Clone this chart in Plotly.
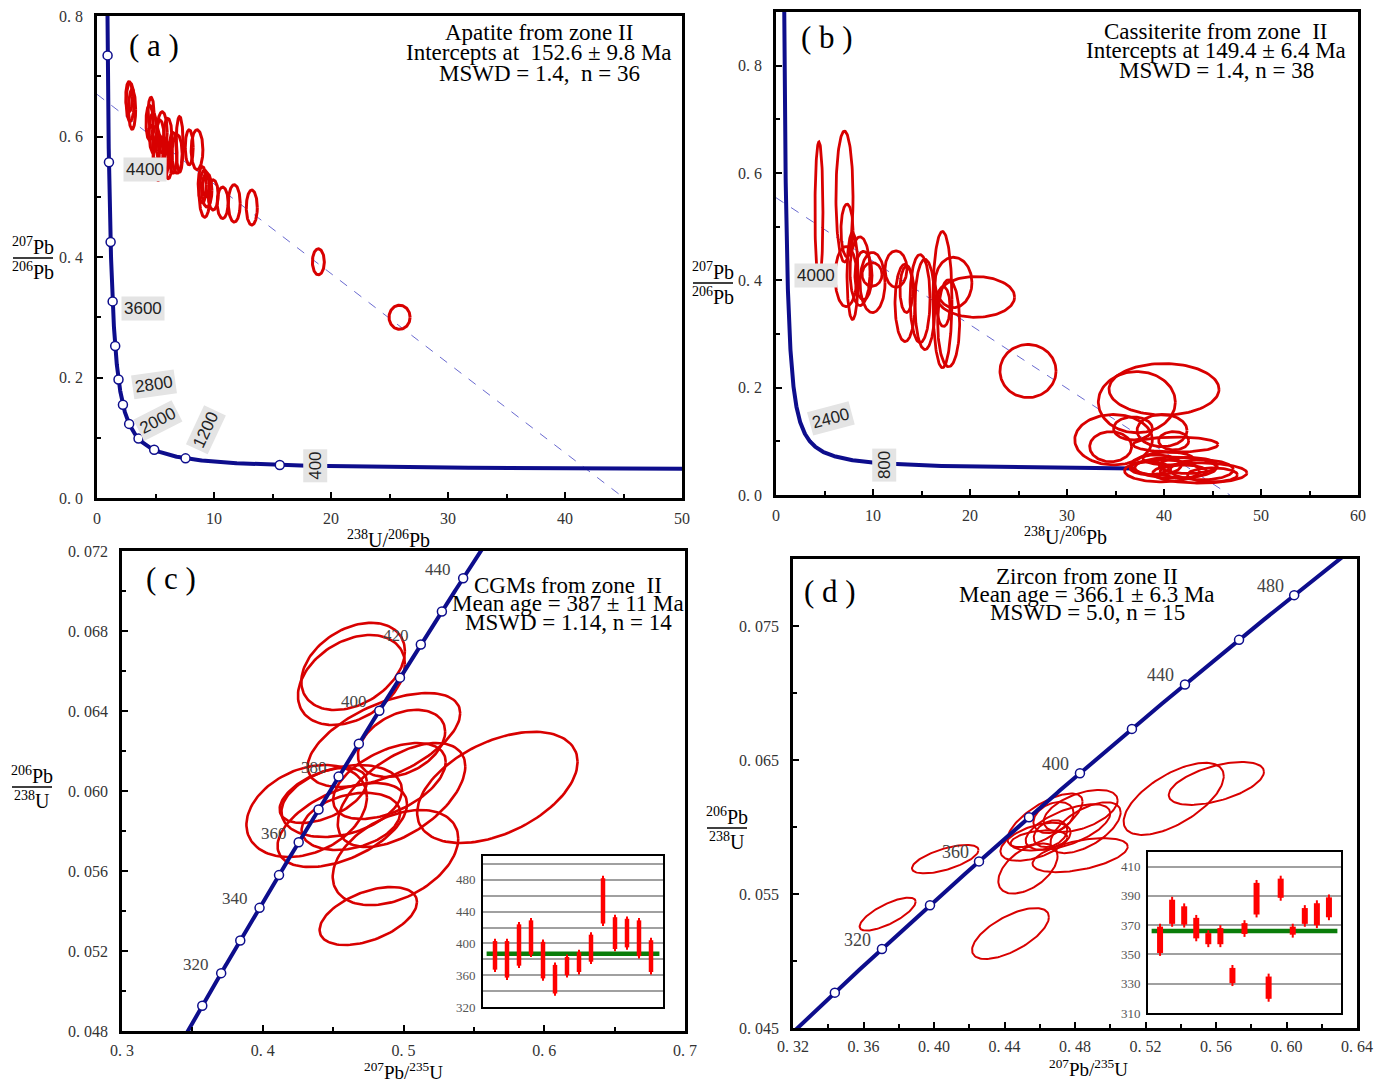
import numpy as np
import plotly.graph_objects as go

W, H = 1387, 1084

# decay constants (1/yr) and present-day 238U/235U
LAMBDA_238 = 1.55125e-10
LAMBDA_235 = 9.8485e-10
U238_U235 = 137.88

NAVY = "#0d0d8c"
RED = "#d80000"
DASH = "#6a6ad0"
GREEN = "#0a7d0a"
SERIF = "Liberation Serif"
SANS = "Liberation Sans"

# ---------------- (a) apatite, Tera-Wasserburg ----------------
APA_X = [2.74, 2.83, 3.00, 4.49, 4.62, 4.80, 5.05, 5.40, 5.57, 5.22, 5.70, 6.05, 6.10, 6.50,
         6.85, 7.06, 7.88, 8.55, 9.00, 9.20, 9.39, 9.33, 9.93, 10.74, 11.73, 13.23, 18.92, 25.86]
APA_Y = [0.666, 0.657, 0.645, 0.623, 0.640, 0.606, 0.588, 0.592, 0.607, 0.566, 0.564, 0.600, 0.560, 0.573,
         0.571, 0.587, 0.582, 0.578, 0.520, 0.505, 0.511, 0.517, 0.503, 0.490, 0.489, 0.482, 0.392, 0.300]
APA_SX = [0.28, 0.34, 0.30, 0.30, 0.25, 0.34, 0.30, 0.35, 0.43, 0.43, 0.40, 0.35, 0.30, 0.34,
          0.43, 0.30, 0.34, 0.50, 0.35, 0.47, 0.43, 0.30, 0.43, 0.47, 0.51, 0.47, 0.51, 0.90]
APA_SY = [0.025, 0.032, 0.033, 0.029, 0.025, 0.033, 0.030, 0.035, 0.034, 0.039, 0.035, 0.030, 0.030, 0.034,
          0.032, 0.046, 0.029, 0.033, 0.030, 0.039, 0.028, 0.017, 0.025, 0.026, 0.031, 0.029, 0.0216, 0.020]
APA_UPPER_Y0 = 0.670      # 207Pb/206Pb intercept of the discordia
APA_LOWER_AGE = 152.6     # Ma
APA_MARKER_AGES = list(range(400, 4801, 400))
APA_LABEL_AGES = [400, 1200, 2000, 2800, 3600, 4400]

# ---------------- (b) cassiterite, Tera-Wasserburg ----------------
CAS_X = [4.43, 7.06, 7.32, 7.22, 7.89, 8.66, 9.02, 9.95, 9.90, 12.37, 13.30, 13.45, 14.85, 15.36,
         17.16, 18.30, 20.60, 17.80, 17.27, 25.98, 40.0, 37.2, 34.8, 34.5, 36.8, 39.8, 41.2, 41.0,
         39.8, 41.2, 43.7, 43.9, 39.2, 42.0, 40.4, 45.0, 38.5, 42.5]
CAS_Y = [0.527, 0.556, 0.493, 0.407, 0.408, 0.417, 0.409, 0.396, 0.411, 0.421, 0.358, 0.383, 0.366, 0.355,
         0.364, 0.396, 0.369, 0.320, 0.351, 0.231, 0.197, 0.173, 0.103, 0.090, 0.124, 0.120, 0.094, 0.101,
         0.045, 0.051, 0.041, 0.047, 0.056, 0.044, 0.068, 0.0374, 0.050, 0.055]
CAS_SX = [0.41, 0.88, 0.62, 1.13, 0.57, 1.03, 0.88, 1.29, 1.03, 1.13, 1.03, 0.67, 1.03, 1.03,
          0.98, 1.90, 4.00, 1.13, 0.67, 2.89, 5.67, 3.97, 4.00, 2.16, 2.00, 2.58, 4.38, 1.55,
          3.87, 4.20, 4.85, 3.25, 2.58, 2.40, 2.58, 2.58, 2.00, 3.00]
CAS_SY = [0.131, 0.122, 0.049, 0.056, 0.081, 0.064, 0.045, 0.056, 0.022, 0.034, 0.072, 0.043, 0.082, 0.084,
          0.127, 0.047, 0.038, 0.081, 0.037, 0.0495, 0.048, 0.057, 0.047, 0.028, 0.0215, 0.030, 0.014, 0.017,
          0.0206, 0.0196, 0.0187, 0.0187, 0.0187, 0.012, 0.012, 0.013, 0.012, 0.015]
CAS_UPPER_Y0 = 0.554
CAS_LOWER_AGE = 149.4
CAS_LABEL_AGES = [800, 2400, 4000]

# ---------------- (c) CGMs, Wetherill ----------------
CGM_X = [0.4630, 0.4642, 0.4861, 0.4986, 0.5667, 0.4986, 0.4312, 0.4430, 0.4561, 0.4565, 0.4626,
         0.4943, 0.4750, 0.4900]
CGM_Y = [0.06555, 0.06623, 0.06255, 0.06238, 0.06018, 0.05980, 0.05900, 0.05978, 0.05950, 0.05830,
         0.05848, 0.05667, 0.05375, 0.06050]
CGM_SX = [0.0380, 0.0368, 0.0542, 0.0310, 0.0570, 0.0453, 0.0428, 0.0310, 0.0428, 0.0460, 0.0350,
          0.0446, 0.0346, 0.0400]
CGM_SY = [0.00225, 0.00218, 0.00235, 0.00168, 0.00278, 0.00260, 0.00230, 0.00138, 0.00180, 0.00210,
          0.00143, 0.00238, 0.00145, 0.00190]
CGM_RHO = [0.35, 0.35, 0.57, 0.35, 0.46, 0.55, 0.30, 0.50, 0.30, 0.50, 0.30, 0.40, 0.48, 0.50]
CGM_MARKER_AGES = list(range(310, 441, 10))
CGM_LABEL_AGES = [320, 340, 360, 380, 400, 420, 440]
CGM_AGE_LO = [364, 354, 369, 383, 353, 334, 357, 361, 374, 422, 390, 392, 381, 361]
CGM_AGE_HI = [406, 406, 427, 432, 405, 376, 386, 392, 414, 485, 436, 434, 432, 407]
CGM_MEAN = 387

# ---------------- (d) zircon, Wetherill ----------------
ZR_X = [0.4064, 0.3737, 0.4434, 0.5360, 0.5602, 0.4630, 0.4678, 0.4832, 0.4860, 0.4576, 0.4596,
        0.4661, 0.4533, 0.4829, 0.4760]
ZR_Y = [0.0576, 0.0535, 0.05205, 0.0621, 0.06325, 0.0605, 0.0607, 0.0612, 0.05995, 0.0589, 0.0590,
        0.0595, 0.0569, 0.0579, 0.0600]
ZR_SX = [0.0189, 0.0159, 0.0218, 0.0284, 0.0270, 0.0213, 0.0114, 0.0210, 0.0199, 0.0199, 0.0161,
         0.0095, 0.0168, 0.0270, 0.0240]
ZR_SY = [0.00106, 0.00123, 0.0019, 0.00269, 0.0016, 0.0020, 0.00116, 0.00157, 0.0019, 0.00142, 0.00075,
         0.0010, 0.00187, 0.00127, 0.0017]
ZR_RHO = [0.64, 0.75, 0.65, 0.63, 0.54, 0.70, 0.30, 0.50, 0.60, 0.50, 0.30, 0.30, 0.50, 0.50, 0.60]
ZR_MARKER_AGES = list(range(300, 481, 20))
ZR_LABEL_AGES = [320, 360, 400, 440, 480]
ZR_AGE_LO = [349, 368.9, 368.4, 359, 355, 355, 328.4, 362, 375.3, 317.7, 386.7, 361.5, 368.9, 368, 373.4]
ZR_AGE_HI = [371, 389.4, 384.9, 377, 366.6, 370, 342.8, 373.4, 400.9, 336.9, 403.8, 371, 383.7, 387, 391]
ZR_MEAN = 366.1

# tick labels
A_YVALS = [0.0, 0.2, 0.4, 0.6, 0.8]
A_YTEXT = ["0. 0", "0. 2", "0. 4", "0. 6", "0. 8"]
C_YVALS = [0.048, 0.052, 0.056, 0.060, 0.064, 0.068, 0.072]
C_YTEXT = ["0. 048", "0. 052", "0. 056", "0. 060", "0. 064", "0. 068", "0. 072"]
C_XVALS = [0.3, 0.4, 0.5, 0.6, 0.7]
C_XTEXT = ["0. 3", "0. 4", "0. 5", "0. 6", "0. 7"]
D_YVALS = [0.045, 0.055, 0.065, 0.075]
D_YTEXT = ["0. 045", "0. 055", "0. 065", "0. 075"]
D_XVALS = [0.32, 0.36, 0.40, 0.44, 0.48, 0.52, 0.56, 0.60, 0.64]
D_XTEXT = ["0. 32", "0. 36", "0. 40", "0. 44", "0. 48", "0. 52", "0. 56", "0. 60", "0. 64"]


# ---------------- helpers ----------------
def tera_wasserburg(age_ma):
    t = np.asarray(age_ma, float) * 1e6
    e8 = np.expm1(LAMBDA_238 * t)
    e5 = np.expm1(LAMBDA_235 * t)
    return 1.0 / e8, e5 / e8 / U238_U235


def wetherill(age_ma):
    t = np.asarray(age_ma, float) * 1e6
    return np.expm1(LAMBDA_235 * t), np.expm1(LAMBDA_238 * t)


def ellipse_paths(cx, cy, sx, sy, rho=None, n=120):
    th = np.linspace(0, 2 * np.pi, n)
    xs, ys = [], []
    if rho is None:
        rho = [0.0] * len(cx)
    for x0, y0, a, b, r in zip(cx, cy, sx, sy, rho):
        xs += list(x0 + a * np.cos(th)) + [None]
        ys += list(y0 + b * (r * np.cos(th) + np.sqrt(1 - r * r) * np.sin(th))) + [None]
    return xs, ys


def px_x(px):
    return px / W


def px_y(py):
    return 1 - py / H


fig = go.Figure()


def add_discordia(y0, lower_age, xa, ya):
    x1, y1 = tera_wasserburg([lower_age])
    slope = (y1[0] - y0) / x1[0]
    x_end = -y0 / slope
    fig.add_trace(go.Scatter(x=[0, x_end], y=[y0, 0], mode="lines",
                             line=dict(color=DASH, width=1, dash="dash"),
                             xaxis=xa, yaxis=ya, hoverinfo="skip"))


# ---- (a)
add_discordia(APA_UPPER_Y0, APA_LOWER_AGE, "x", "y")
cx, cy = tera_wasserburg(np.geomspace(120, 5300, 900))
fig.add_trace(go.Scatter(x=cx, y=cy, mode="lines", line=dict(color=NAVY, width=4),
                         xaxis="x", yaxis="y", hoverinfo="skip"))
mx, my = tera_wasserburg(APA_MARKER_AGES)
fig.add_trace(go.Scatter(x=mx, y=my, mode="markers",
                         marker=dict(symbol="circle", size=9, color="white",
                                     line=dict(color=NAVY, width=1.5)),
                         xaxis="x", yaxis="y", hoverinfo="skip"))
ex, ey = ellipse_paths(APA_X, APA_Y, APA_SX, APA_SY)
fig.add_trace(go.Scatter(x=ex, y=ey, mode="lines", line=dict(color=RED, width=3),
                         xaxis="x", yaxis="y", hoverinfo="skip"))

# ---- (b)
add_discordia(CAS_UPPER_Y0, CAS_LOWER_AGE, "x2", "y2")
cx, cy = tera_wasserburg(np.geomspace(172, 5300, 900))
fig.add_trace(go.Scatter(x=cx, y=cy, mode="lines", line=dict(color=NAVY, width=4),
                         xaxis="x2", yaxis="y2", hoverinfo="skip"))
ex, ey = ellipse_paths(CAS_X, CAS_Y, CAS_SX, CAS_SY)
fig.add_trace(go.Scatter(x=ex, y=ey, mode="lines", line=dict(color=RED, width=2.8),
                         xaxis="x2", yaxis="y2", hoverinfo="skip"))

# ---- (c)
ex, ey = ellipse_paths(CGM_X, CGM_Y, CGM_SX, CGM_SY, CGM_RHO)
fig.add_trace(go.Scatter(x=ex, y=ey, mode="lines", line=dict(color=RED, width=2.6),
                         xaxis="x3", yaxis="y3", hoverinfo="skip"))
cx, cy = wetherill(np.linspace(290, 460, 300))
fig.add_trace(go.Scatter(x=cx, y=cy, mode="lines", line=dict(color=NAVY, width=4),
                         xaxis="x3", yaxis="y3", hoverinfo="skip"))
mx, my = wetherill(CGM_MARKER_AGES)
fig.add_trace(go.Scatter(x=mx, y=my, mode="markers",
                         marker=dict(symbol="circle", size=9, color="white",
                                     line=dict(color=NAVY, width=1.5)),
                         xaxis="x3", yaxis="y3", hoverinfo="skip"))

# ---- (d)
ex, ey = ellipse_paths(ZR_X, ZR_Y, ZR_SX, ZR_SY, ZR_RHO)
fig.add_trace(go.Scatter(x=ex, y=ey, mode="lines", line=dict(color=RED, width=2),
                         xaxis="x4", yaxis="y4", hoverinfo="skip"))
cx, cy = wetherill(np.linspace(270, 510, 300))
fig.add_trace(go.Scatter(x=cx, y=cy, mode="lines", line=dict(color=NAVY, width=4),
                         xaxis="x4", yaxis="y4", hoverinfo="skip"))
mx, my = wetherill(ZR_MARKER_AGES)
fig.add_trace(go.Scatter(x=mx, y=my, mode="markers",
                         marker=dict(symbol="circle", size=9, color="white",
                                     line=dict(color=NAVY, width=1.5)),
                         xaxis="x4", yaxis="y4", hoverinfo="skip"))


# ---- inset age bars
def add_age_bars(lo, hi, mean, xa, ya, body_w, pad):
    wx, wy, bx, by = [], [], [], []
    for i, (a, b) in enumerate(zip(lo, hi), start=1):
        wx += [i, i, None]
        wy += [a, b, None]
        bx += [i, i, None]
        by += [a + pad, b - pad, None]
    n = len(lo)
    fig.add_trace(go.Scatter(x=[0.3, n + 0.7], y=[mean, mean], mode="lines",
                             line=dict(color=GREEN, width=4.5),
                             xaxis=xa, yaxis=ya, hoverinfo="skip"))
    fig.add_trace(go.Scatter(x=wx, y=wy, mode="lines", line=dict(color="#ff0000", width=2),
                             xaxis=xa, yaxis=ya, hoverinfo="skip"))
    fig.add_trace(go.Scatter(x=bx, y=by, mode="lines", line=dict(color="#ff0000", width=body_w),
                             xaxis=xa, yaxis=ya, hoverinfo="skip"))


add_age_bars(CGM_AGE_LO, CGM_AGE_HI, CGM_MEAN, "x5", "y5", 4.5, 3)
add_age_bars(ZR_AGE_LO, ZR_AGE_HI, ZR_MEAN, "x6", "y6", 6, 2)

# ---------------- axes ----------------
TICK_FONT = dict(family=SERIF, size=16, color="#333333")


def frame(standoff=8, **kw):
    base = dict(showline=True, mirror=True, linecolor="black", linewidth=2.5,
                ticks="inside", ticklen=6, tickwidth=1.5, tickcolor="black",
                showgrid=False, zeroline=False, tickfont=TICK_FONT,
                ticklabelstandoff=standoff, fixedrange=True, automargin=False)
    base.update(kw)
    return base


def minor(vals):
    return dict(ticks="inside", ticklen=4, tickwidth=1.5, tickcolor="black",
                tickmode="array", tickvals=vals)


INSET_FONT = dict(family=SERIF, size=13, color="#555555")

fig.update_layout(
    xaxis=frame(standoff=4, domain=[px_x(97), px_x(682)], range=[0, 50], anchor="y",
                tickmode="array", tickvals=[0, 10, 20, 30, 40, 50],
                minor=minor([5, 15, 25, 35, 45])),
    yaxis=frame(domain=[px_y(498), px_y(16)], range=[0, 0.8], anchor="x",
                tickmode="array", tickvals=A_YVALS, ticktext=A_YTEXT,
                minor=minor([0.1, 0.3, 0.5, 0.7])),
    xaxis2=frame(standoff=4, domain=[px_x(776), px_x(1358)], range=[0, 60], anchor="y2",
                 tickmode="array", tickvals=[0, 10, 20, 30, 40, 50, 60],
                 minor=minor([5, 15, 25, 35, 45, 55])),
    yaxis2=frame(domain=[px_y(495), px_y(12)], range=[0, 0.9], anchor="x2",
                 tickmode="array", tickvals=A_YVALS, ticktext=A_YTEXT,
                 minor=minor([0.1, 0.3, 0.5, 0.7])),
    xaxis3=frame(standoff=3, domain=[px_x(122), px_x(685)], range=[0.3, 0.7], anchor="y3",
                 tickmode="array", tickvals=C_XVALS, ticktext=C_XTEXT,
                 minor=minor([0.35, 0.45, 0.55, 0.65])),
    yaxis3=frame(domain=[px_y(1031), px_y(551)], range=[0.048, 0.072], anchor="x3",
                 tickmode="array", tickvals=C_YVALS, ticktext=C_YTEXT,
                 minor=minor([0.050, 0.054, 0.058, 0.062, 0.066, 0.070])),
    xaxis4=frame(standoff=2, domain=[px_x(793), px_x(1357)], range=[0.32, 0.64], anchor="y4",
                 tickmode="array", tickvals=D_XVALS, ticktext=D_XTEXT,
                 minor=minor([0.34, 0.38, 0.42, 0.46, 0.50, 0.54, 0.58, 0.62])),
    yaxis4=frame(domain=[px_y(1028), px_y(559)], range=[0.045, 0.080], anchor="x4",
                 tickmode="array", tickvals=D_YVALS, ticktext=D_YTEXT,
                 minor=minor([0.050, 0.060, 0.070, 0.080])),
    xaxis5=dict(domain=[px_x(483), px_x(663)], range=[0, 15], anchor="y5",
                showline=True, mirror=True, linecolor="black", linewidth=2,
                showticklabels=False, ticks="", showgrid=False, zeroline=False,
                fixedrange=True, automargin=False),
    yaxis5=dict(domain=[px_y(1007), px_y(856)], range=[320, 510], anchor="x5",
                showline=True, mirror=True, linecolor="black", linewidth=2,
                tickmode="array", tickvals=[320, 360, 400, 440, 480],
                tickfont=INSET_FONT, ticks="", ticklabelstandoff=3,
                showgrid=True, gridcolor="#a0a0a0", gridwidth=1.6,
                minor=dict(tickmode="array", tickvals=[340, 380, 420, 460, 500],
                           showgrid=True, gridcolor="#a0a0a0", gridwidth=1.6),
                zeroline=False, fixedrange=True, automargin=False),
    xaxis6=dict(domain=[px_x(1148), px_x(1341)], range=[0, 16], anchor="y6",
                showline=True, mirror=True, linecolor="black", linewidth=2,
                showticklabels=False, ticks="", showgrid=False, zeroline=False,
                fixedrange=True, automargin=False),
    yaxis6=dict(domain=[px_y(1013), px_y(852)], range=[310, 420], anchor="x6",
                showline=True, mirror=True, linecolor="black", linewidth=2,
                tickmode="array", tickvals=[310, 330, 350, 370, 390, 410],
                tickfont=INSET_FONT, ticks="", ticklabelstandoff=3,
                showgrid=True, gridcolor="#a0a0a0", gridwidth=1.6,
                zeroline=False, fixedrange=True, automargin=False),
)

# ---------------- text ----------------
ann = []


def paper_text(text, px, py, size, family=SERIF, color="black", xanchor="center"):
    ann.append(dict(text=text, x=px_x(px), y=px_y(py), xref="paper", yref="paper",
                    showarrow=False, xanchor=xanchor, yanchor="middle",
                    font=dict(family=family, size=size, color=color)))


# panel letters
paper_text("( a )", 154, 46, 31)
paper_text("( b )", 827, 38, 31)
paper_text("( c )", 171, 578, 31)
paper_text("( d )", 830, 591, 31)

# result blocks
for line, py in [("Apatite from zone II", 32), ("Intercepts at  152.6 ± 9.8 Ma", 52),
                 ("MSWD = 1.4,  n = 36", 73)]:
    paper_text(line, 539, py, 23)
for line, py in [("Cassiterite from zone  II", 31), ("Intercepts at 149.4 ± 6.4 Ma", 50),
                 ("MSWD = 1.4, n = 38", 70)]:
    paper_text(line, 1216, py, 23)
for line, py in [("CGMs from zone  II", 585), ("Mean age = 387 ± 11 Ma", 603),
                 ("MSWD = 1.14, n = 14", 622)]:
    paper_text(line, 568, py, 23)
for line, py in [("Zircon from zone II", 576), ("Mean age = 366.1 ± 6.3 Ma", 594),
                 ("MSWD = 5.0, n = 15", 613)]:
    paper_text(line, 1087, py, 23)

# x-axis titles
paper_text("<sup>238</sup>U/<sup>206</sup>Pb", 388, 539, 20)
paper_text("<sup>238</sup>U/<sup>206</sup>Pb", 1065, 536, 20)
paper_text("<sup>207</sup>Pb/<sup>235</sup>U", 403, 1071, 19)
paper_text("<sup>207</sup>Pb/<sup>235</sup>U", 1088, 1068, 19)

# stacked y-axis titles
shapes = []


def fraction(top, bottom, cx, cy, half=20):
    paper_text(top, cx, cy - 12, 20)
    paper_text(bottom, cx, cy + 13, 20)
    shapes.append(dict(type="line", xref="paper", yref="paper",
                       x0=px_x(cx - half), x1=px_x(cx + half), y0=px_y(cy), y1=px_y(cy),
                       line=dict(color="black", width=1.5)))


fraction("<sup>207</sup>Pb", "<sup>206</sup>Pb", 33, 258)
fraction("<sup>207</sup>Pb", "<sup>206</sup>Pb", 713, 283)
fraction("<sup>206</sup>Pb", "<sup>238</sup>U", 32, 787)
fraction("<sup>206</sup>Pb", "<sup>238</sup>U", 727, 828)

# concordia age labels, Tera-Wasserburg panels (boxed, sans)
TW_STYLE = {400: (35, -1, -90), 1200: (52, 20, -65), 2000: (29, 3, -27), 2800: (35, -5, -8),
            3600: (30, -7, 0), 4400: (36, -7, 0)}
lx, ly = tera_wasserburg(APA_LABEL_AGES)
for age, x, y in zip(APA_LABEL_AGES, lx, ly):
    dx, dy, ang = TW_STYLE[age]
    ann.append(dict(text=str(age), x=x, y=y, xref="x", yref="y", showarrow=False,
                    xshift=dx, yshift=dy, textangle=ang, bgcolor="#e4e4e4", borderpad=2,
                    font=dict(family=SANS, size=17, color="#222222")))
CAS_STYLE = {800: (35, -5, -90), 2400: (33, -7, -15), 4000: (29, -9, 0)}
lx, ly = tera_wasserburg(CAS_LABEL_AGES)
for age, x, y in zip(CAS_LABEL_AGES, lx, ly):
    dx, dy, ang = CAS_STYLE[age]
    ann.append(dict(text=str(age), x=x, y=y, xref="x2", yref="y2", showarrow=False,
                    xshift=dx, yshift=dy, textangle=ang, bgcolor="#e4e4e4", borderpad=2,
                    font=dict(family=SANS, size=17, color="#222222")))

# concordia age labels, Wetherill panels (serif, offset up-left of the tick)
lx, ly = wetherill(CGM_LABEL_AGES)
for age, x, y in zip(CGM_LABEL_AGES, lx, ly):
    ann.append(dict(text=str(age), x=x, y=y, xref="x3", yref="y3", showarrow=False,
                    xshift=-25, yshift=9, font=dict(family=SERIF, size=17, color="#444444")))
lx, ly = wetherill(ZR_LABEL_AGES)
for age, x, y in zip(ZR_LABEL_AGES, lx, ly):
    ann.append(dict(text=str(age), x=x, y=y, xref="x4", yref="y4", showarrow=False,
                    xshift=-24, yshift=9, font=dict(family=SERIF, size=18, color="#444444")))

fig.update_layout(
    width=W, height=H, margin=dict(l=0, r=0, t=0, b=0, pad=0), autosize=False,
    paper_bgcolor="white", plot_bgcolor="white", showlegend=False,
    annotations=ann, shapes=shapes,
)

fig.write_html("out.html")
